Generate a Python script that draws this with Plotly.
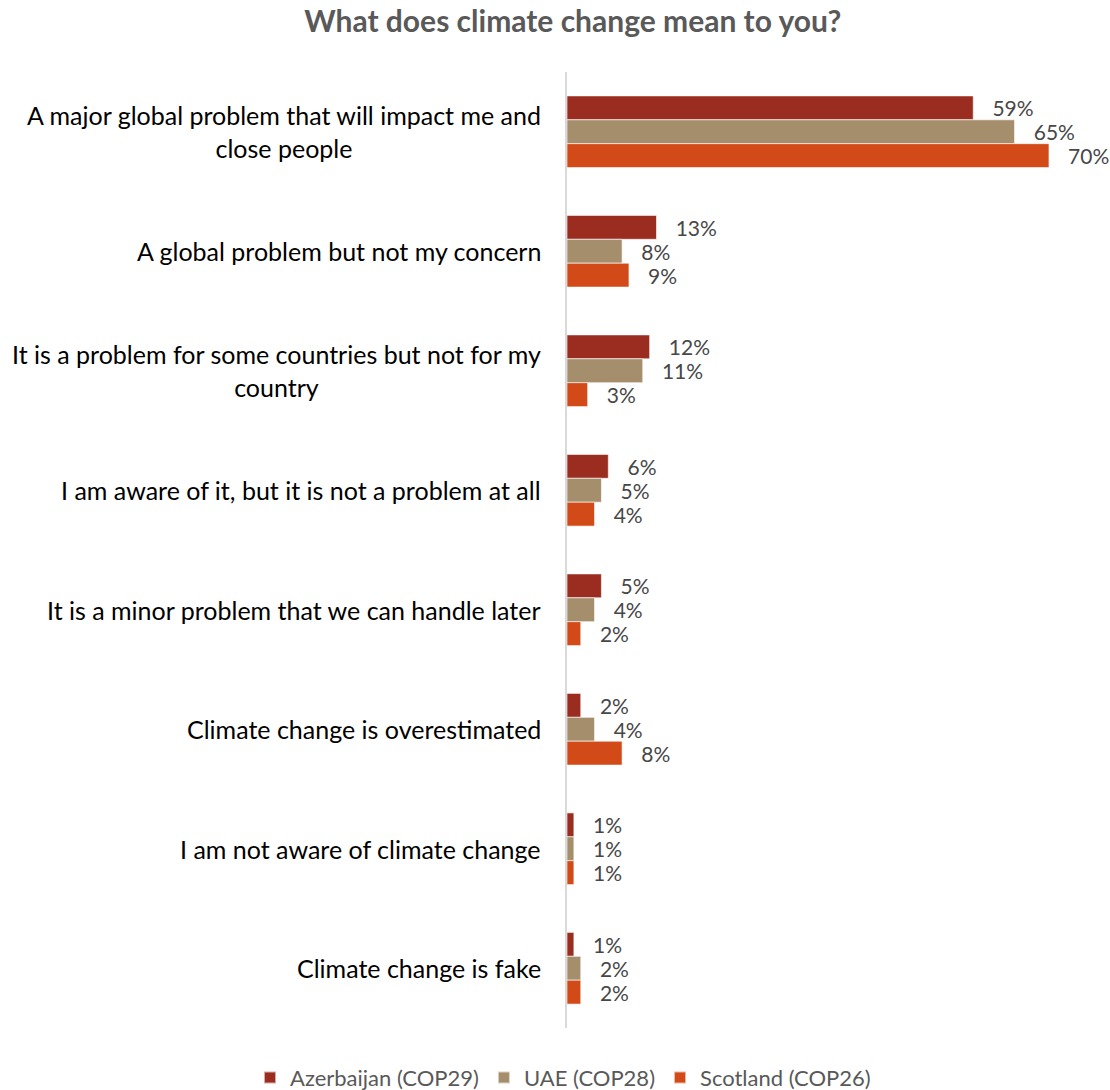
import plotly.graph_objects as go

# Survey answers, listed top to bottom
categories = [
    "A major global problem that will impact me and<br>close people",
    "A global problem but not my concern",
    "It is a problem for some countries but not for my<br>country",
    "I am aware of it, but it is not a problem at all",
    "It is a minor problem that we can handle later",
    "Climate change is overestimated",
    "I am not aware of climate change",
    "Climate change is fake",
]

# Share of respondents (%) per host country
azerbaijan_cop29 = [59, 13, 12, 6, 5, 2, 1, 1]
uae_cop28 = [65, 8, 11, 5, 4, 4, 1, 2]
scotland_cop26 = [70, 9, 3, 4, 2, 8, 1, 2]

series_names = ["Azerbaijan (COP29)", "UAE (COP28)", "Scotland (COP26)"]
series_values = [azerbaijan_cop29, uae_cop28, scotland_cop26]
series_colors = ["#9B2D20", "#A58E6C", "#D24A17"]

FONT = "Lato"
GREY = "#595959"

fig = go.Figure()
for name, vals, color in zip(series_names, series_values, series_colors):
    fig.add_trace(go.Bar(
        name=name,
        y=categories,
        x=vals,
        orientation="h",
        marker=dict(color=color, line=dict(color="rgba(255,255,255,0.6)", width=1)),
        text=["\u00a0\u00a0\u00a0" + f"{v}%" for v in vals],
        textposition="outside",
        constraintext="none",
        cliponaxis=False,
        textfont=dict(family=FONT, size=21, color="#474747"),
        hoverinfo="skip",
    ))

# Category labels as annotations so wrapped lines stay centered
for cat in categories:
    fig.add_annotation(
        x=0, xref="paper", xshift=-24, xanchor="right",
        y=cat, yref="y", yanchor="middle",
        text=cat, align="center", showarrow=False,
        font=dict(family=FONT, size=25, color="#000000"),
    )

fig.update_layout(
    width=1110, height=1090,
    margin=dict(l=567, r=50, t=72, b=62, autoexpand=False),
    paper_bgcolor="white", plot_bgcolor="white",
    barmode="group", bargap=0.4, bargroupgap=0,
    title=dict(
        text="<b>What does climate change mean to you?</b>",
        x=0.516, xanchor="center", y=0.98, yanchor="middle",
        font=dict(family=FONT, size=30, color=GREY),
    ),
    xaxis=dict(range=[0, 71.6], showgrid=False, zeroline=False,
               showticklabels=False, showline=False, fixedrange=True),
    yaxis=dict(autorange="reversed", showticklabels=False, showgrid=False,
               showline=True, linecolor="#D9D9D9", linewidth=2, ticks=""),
    legend=dict(orientation="h", x=-0.643, xanchor="left",
                y=-0.052, yanchor="middle",
                font=dict(family=FONT, size=22, color=GREY),
                itemsizing="constant"),
    showlegend=True,
)

fig.write_html("out.html")
